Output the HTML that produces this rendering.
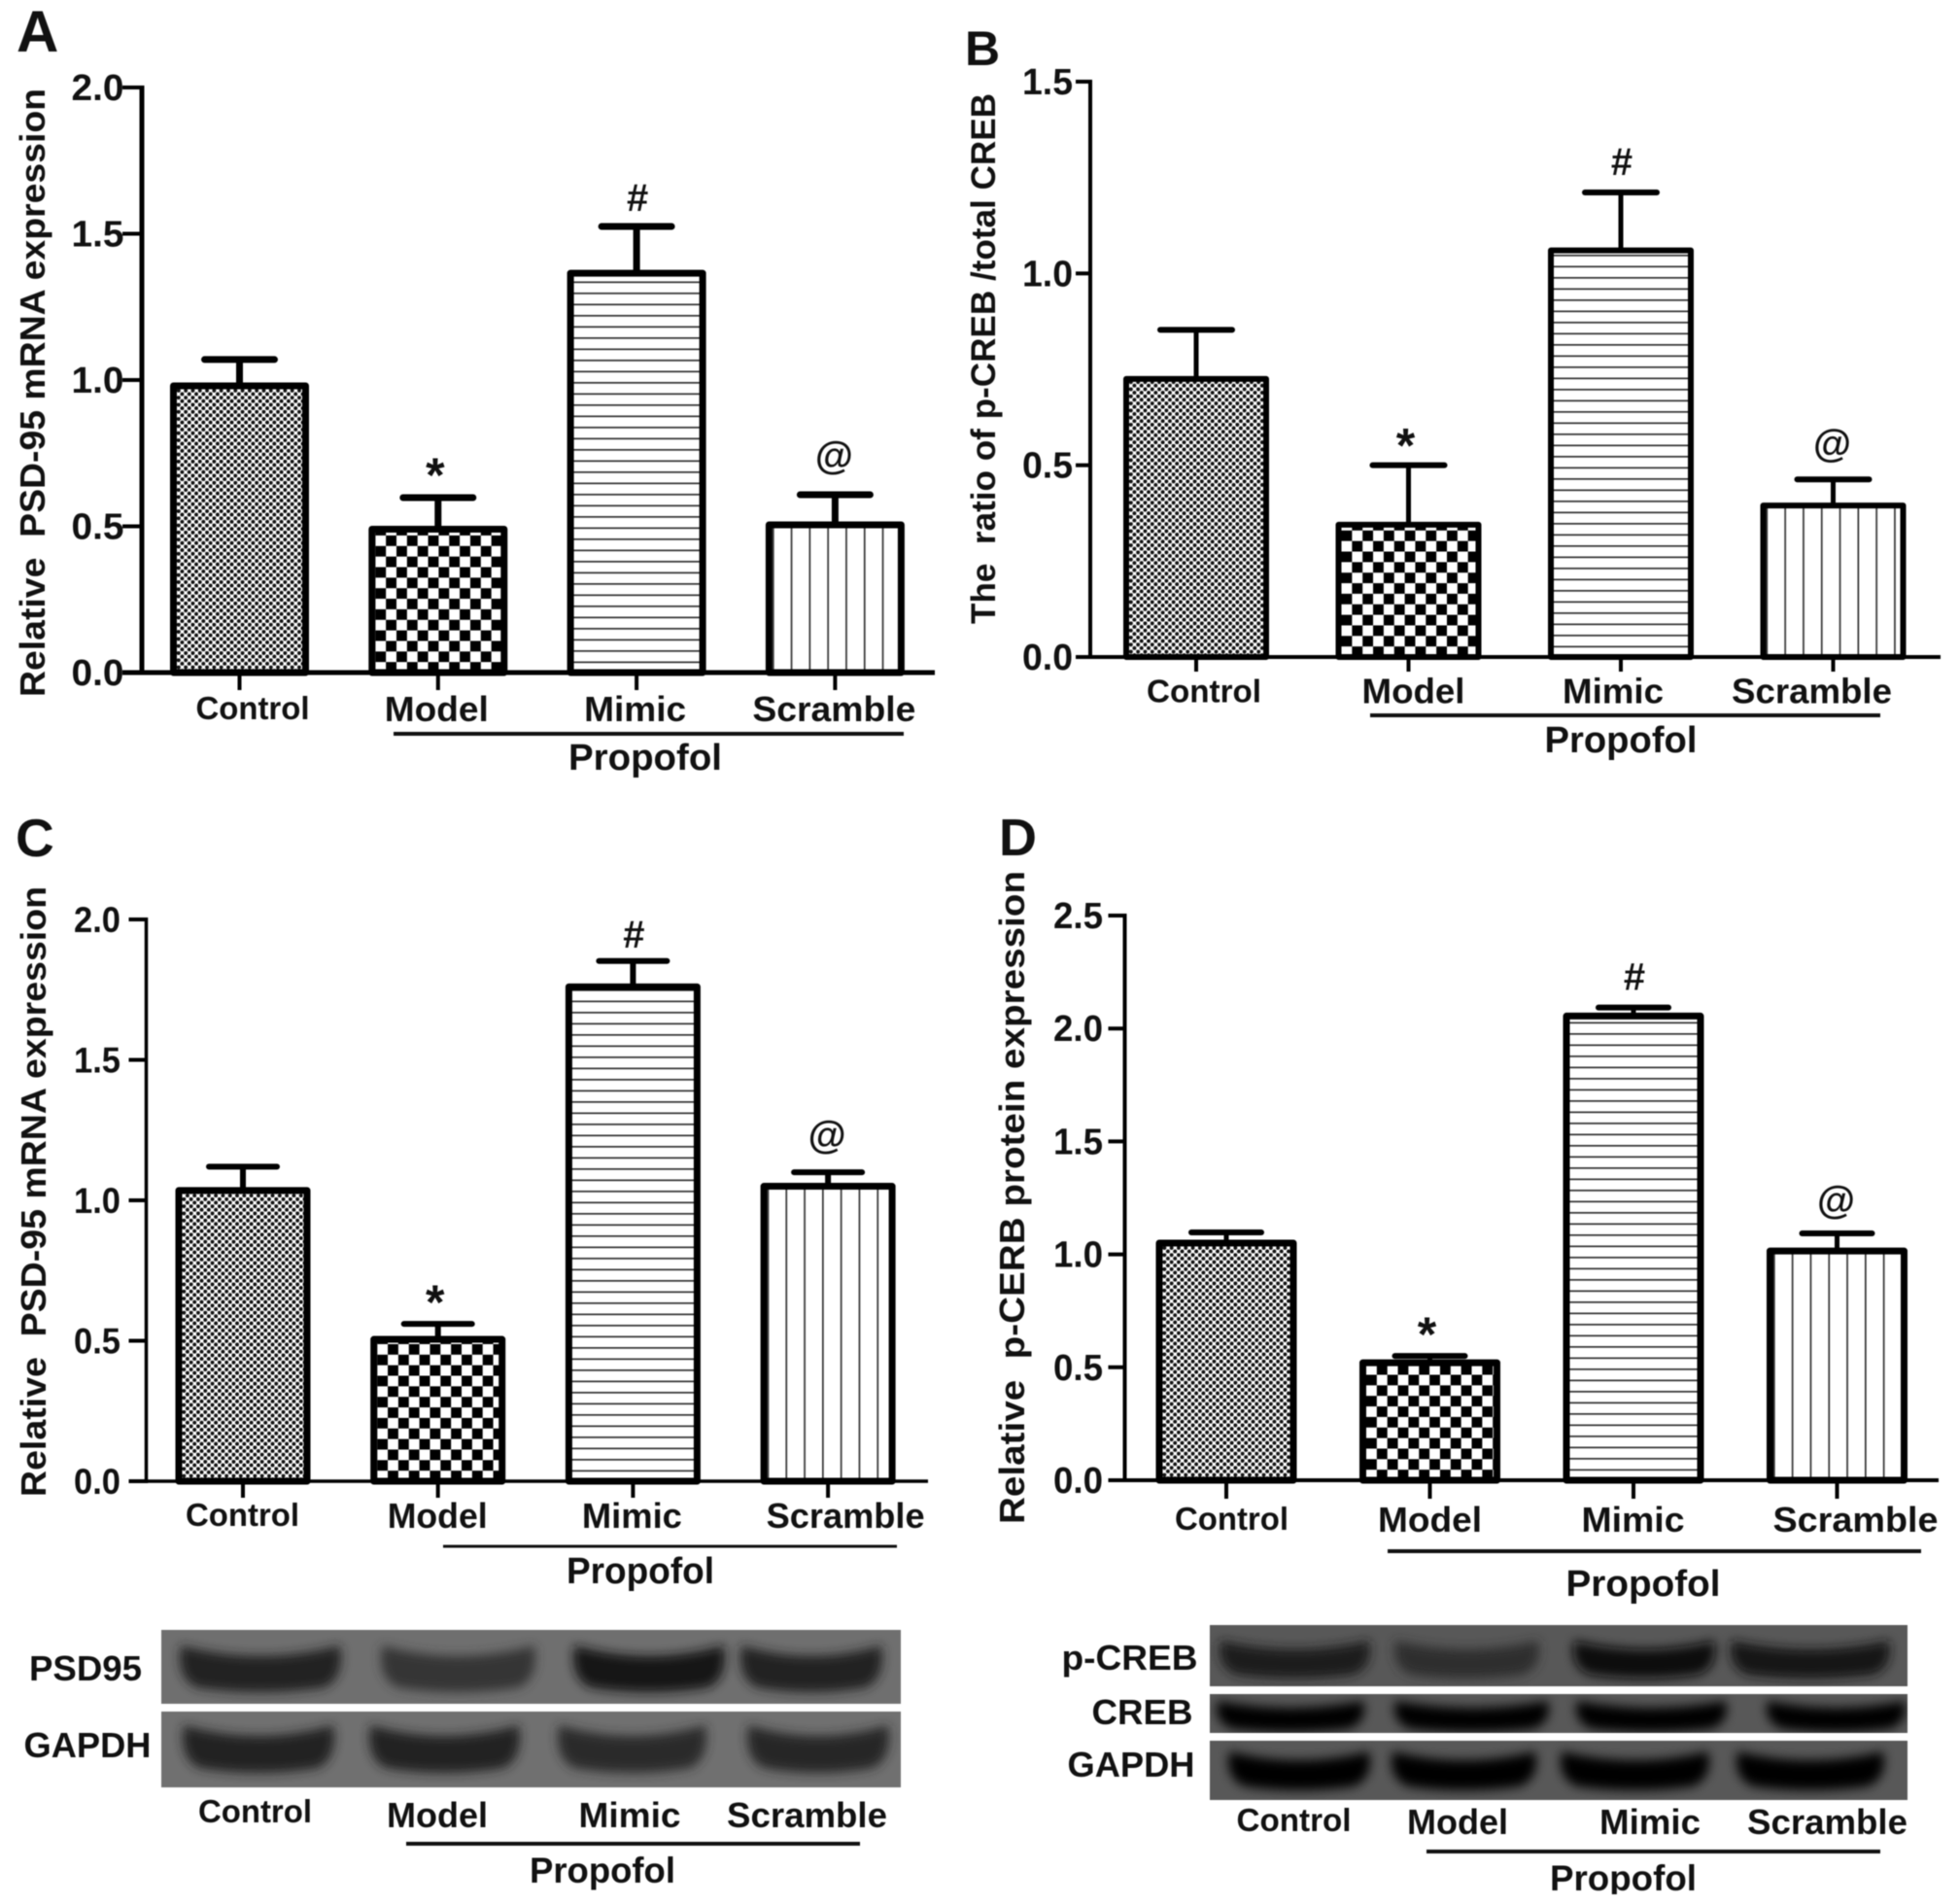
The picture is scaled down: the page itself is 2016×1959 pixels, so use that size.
<!DOCTYPE html>
<html lang="en">
<head>
<meta charset="utf-8">
<title>PSD-95 and CREB expression panels</title>
<style>
html,body{margin:0;padding:0;background:#fff;overflow:hidden;}
svg{display:block;filter:blur(0.6px);}
text{font-family:"Liberation Sans",Arial,sans-serif;font-weight:bold;fill:#111;}
</style>
</head>
<body>
<svg id="fig" xmlns="http://www.w3.org/2000/svg" width="2016" height="1959" viewBox="0 0 2016 1959">
  <defs id="defs">
    <filter id="bandBlur" x="-30%" y="-80%" width="160%" height="260%"><feGaussianBlur stdDeviation="5.5"/></filter>
  </defs>
  <rect x="0" y="0" width="2016" height="1959" fill="#fff"/>
</svg>
<script>
// ---- chart data ----
const categories = ['Control', 'Model', 'Mimic', 'Scramble'];
const annotations = ['', '*', '#', '@'];

const valuesA = [0.98, 0.49, 1.365, 0.505];
const errorsA = [0.09, 0.108, 0.16, 0.103];
const yTicksA = ['0.0', '0.5', '1.0', '1.5', '2.0'];

const valuesB = [0.725, 0.345, 1.06, 0.395];
const errorsB = [0.128, 0.155, 0.151, 0.068];
const yTicksB = ['0.0', '0.5', '1.0', '1.5'];

const valuesC = [1.035, 0.505, 1.76, 1.05];
const errorsC = [0.085, 0.055, 0.092, 0.05];
const yTicksC = ['0.0', '0.5', '1.0', '1.5', '2.0'];

const valuesD = [1.05, 0.52, 2.055, 1.015];
const errorsD = [0.047, 0.03, 0.038, 0.078];
const yTicksD = ['0.0', '0.5', '1.0', '1.5', '2.0', '2.5'];

// ---- layout (one per panel) ----
const layouts = [
  { id:'a', letter:'A', letterX:17, letterY:53, letterSize:60,
    values:valuesA, errors:errorsA, ticks:yTicksA,
    axisX:146, y0:692, yTop:90, yMax:2.0, xEnd:962, tickLeft:126, tickLen:18,
    first:246.5, step:204.3, barW:136, sw:7, stem:7, capW:72, capH:7, axisW:5,
    tickSize:38, tickW:54, tickRight:127.5,
    starOff:-6, hashOff:-16, atOff:-27,
    title:'Relative  PSD-95 mRNA expression', titleX:46, titleBottom:717, titleLen:626, titleSize:36,
    labelDx:[13.5,-1.5,-1.5,-1], labelW:[117,107,105,168], labelY:[740,742,742,742], labelSize:[33,36,36,36],
    lineX1:405, lineX2:930, lineY:755, lineW:4, groupX:664, groupY:792, groupW:158 },
  { id:'b', letter:'B', letterX:993, letterY:67, letterSize:50,
    values:valuesB, errors:errorsB, ticks:yTicksB,
    axisX:1122, y0:676, yTop:84, yMax:1.5, xEnd:1997, tickLeft:1107, tickLen:15,
    first:1231, step:218.5, barW:144, sw:6, stem:5, capW:74, capH:6, axisW:4,
    tickSize:38, tickW:52, tickRight:1104,
    starOff:-3, hashOff:-18, atOff:-24,
    title:'The  ratio of p-CREB /total CREB', titleX:1024, titleBottom:642, titleLen:546, titleSize:35,
    labelDx:[8,5,-8,-22], labelW:[118,106,104,165], labelY:[722.5,723.5,723.5,723.5], labelSize:[33,36,36,36],
    lineX1:1410, lineX2:1935, lineY:736, lineW:4, groupX:1668, groupY:774, groupW:157 },
  { id:'c', letter:'C', letterX:16, letterY:881, letterSize:55,
    values:valuesC, errors:errorsC, ticks:yTicksC,
    axisX:150.5, y0:1524, yTop:946, yMax:2.0, xEnd:955, tickLeft:132.5, tickLen:17,
    first:250, step:200.7, barW:132, sw:7, stem:6, capW:70, capH:6, axisW:3.5,
    tickSize:37, tickW:48, tickRight:124,
    starOff:-5, hashOff:-14, atOff:-25,
    title:'Relative  PSD-95 mRNA expression', titleX:47, titleBottom:1540, titleLen:628, titleSize:36,
    labelDx:[-0.5,-0.5,-1,18], labelW:[117,103,103,163], labelY:[1570,1572,1572,1572], labelSize:[33,36,36,36],
    lineX1:456, lineX2:923, lineY:1591, lineW:3, groupX:659, groupY:1629, groupW:152 },
  { id:'d', letter:'D', letterX:1028, letterY:880, letterSize:54,
    values:valuesD, errors:errorsD, ticks:yTicksD,
    axisX:1157.5, y0:1523, yTop:942, yMax:2.5, xEnd:1995, tickLeft:1140.5, tickLen:19,
    first:1262, step:209.5, barW:138, sw:7, stem:5, capW:72, capH:6, axisW:4,
    tickSize:38, tickW:51, tickRight:1135,
    starOff:-5, hashOff:-18, atOff:-21,
    title:'Relative  p-CERB protein expression', titleX:1054, titleBottom:1568, titleLen:672, titleSize:36,
    labelDx:[5.5,0,-0.5,19], labelW:[117,107,106,170], labelY:[1574,1576,1576,1576], labelSize:[33,36,36,36],
    lineX1:1428, lineX2:1977, lineY:1596, lineW:4, groupX:1691, groupY:1642, groupW:159 }
];

const SVG_NS = 'http://www.w3.org/2000/svg';
const root = document.getElementById('fig');
const defs = document.getElementById('defs');

function shape(parent, tag, attrs) {
  const el = document.createElementNS(SVG_NS, tag);
  for (const k in attrs) el.setAttribute(k, attrs[k]);
  parent.appendChild(el);
  return el;
}

function label(parent, name, str, x, y, size, width, anchor, rotate) {
  const el = document.createElementNS(SVG_NS, 'text');
  
  
  el.setAttribute('x', x);
  el.setAttribute('y', y);
  el.setAttribute('font-size', size);
  el.setAttribute('text-anchor', anchor || 'middle');
  el.setAttribute('xml:space', 'preserve');
  el.style.whiteSpace = 'pre';
  if (width) {
    el.setAttribute('textLength', width);
    el.setAttribute('lengthAdjust', 'spacingAndGlyphs');
  }
  if (rotate) el.setAttribute('transform', 'rotate(-90 ' + x + ' ' + y + ')');
  el.textContent = str;
  parent.appendChild(el);
  return el;
}

function makePattern(id, kind, x, y) {
  const sizes = { dots:[7.3,7.3], checker:[21.7,21.7], hlines:[20,11.5], vlines:[18.8,20] };
  const p = shape(defs, 'pattern', { id:id, patternUnits:'userSpaceOnUse', x:x, y:y, width:sizes[kind][0], height:sizes[kind][1] });
  shape(p, 'rect', { x:0, y:0, width:sizes[kind][0], height:sizes[kind][1], fill:'#fff' });
  if (kind === 'dots') {
    shape(p, 'circle', { cx:1.8, cy:1.8, r:2.05, fill:'#111' });
    shape(p, 'circle', { cx:5.45, cy:5.45, r:2.05, fill:'#111' });
  } else if (kind === 'checker') {
    shape(p, 'rect', { x:0, y:0, width:10.85, height:10.85, fill:'#000' });
    shape(p, 'rect', { x:10.85, y:10.85, width:10.85, height:10.85, fill:'#000' });
  } else if (kind === 'hlines') {
    shape(p, 'rect', { x:0, y:0, width:20, height:1.7, fill:'#333' });
  } else {
    shape(p, 'rect', { x:0, y:0, width:1.7, height:20, fill:'#333' });
  }
}

const patternKinds = ['dots', 'checker', 'hlines', 'vlines'];

layouts.forEach(function (L) {
  const panel = document.createElementNS(SVG_NS, 'g');
  
  
  root.appendChild(panel);

  const yScale = function (v) { return L.y0 - (v / L.yMax) * (L.y0 - L.yTop); };
  const xScale = function (i) { return L.first + i * L.step; };

  label(panel, 'panel-letter-' + L.id, L.letter, L.letterX, L.letterY, L.letterSize, null, 'start');
  label(panel, 'y-axis-title-' + L.id, L.title, L.titleX, L.titleBottom, L.titleSize, L.titleLen, 'start', true);

  categories.forEach(function (cat, i) {
    const cx = xScale(i);
    const top = yScale(L.values[i]);
    const capY = yScale(L.values[i] + L.errors[i]);
    const key = L.id + '-' + cat.toLowerCase();

    const stem = shape(panel, 'line', { x1:cx, x2:cx, y1:capY, y2:top, stroke:'#000', 'stroke-width':L.stem });
    
    

    const cap = shape(panel, 'line', { x1:cx - L.capW / 2, x2:cx + L.capW / 2, y1:capY, y2:capY, stroke:'#000', 'stroke-width':L.capH, 'stroke-linecap':'round' });
    
    

    const left = cx - L.barW / 2;
    const pid = 'pat-' + key;
    makePattern(pid, patternKinds[i], left + L.sw / 2, L.y0);
    const bar = shape(panel, 'rect', { x:left, y:top, width:L.barW, height:L.y0 - top, fill:'url(#' + pid + ')', stroke:'#000', 'stroke-width':L.sw, 'stroke-linejoin':'round' });
    
    

    const tick = shape(panel, 'line', { x1:cx, x2:cx, y1:L.y0, y2:L.y0 + L.tickLen, stroke:'#000', 'stroke-width':4 });
    
    

    label(panel, 'x-label-' + key, cat, cx + L.labelDx[i], L.labelY[i], L.labelSize[i], L.labelW[i]);

    const mark = annotations[i];
    if (mark === '*') label(panel, 'significance-star-' + key, mark, cx - 3, capY + L.starOff, 50, null);
    if (mark === '#') label(panel, 'significance-hash-' + key, mark, cx + 1, capY + L.hashOff, 40, null);
    if (mark === '@') label(panel, 'significance-at-' + key, mark, cx - 1, capY + L.atOff, 40, null);
  });

  const yAxis = shape(panel, 'line', { x1:L.axisX, x2:L.axisX, y1:L.yTop - 2, y2:L.y0 + 2, stroke:'#000', 'stroke-width':L.axisW });
  
  

  const xAxis = shape(panel, 'line', { x1:L.tickLeft, x2:L.xEnd, y1:L.y0, y2:L.y0, stroke:'#000', 'stroke-width':L.axisW });
  
  

  L.ticks.forEach(function (t) {
    const y = yScale(parseFloat(t));
    const tk = shape(panel, 'line', { x1:L.tickLeft, x2:L.axisX, y1:y, y2:y, stroke:'#000', 'stroke-width':4 });
    
    
    label(panel, 'y-tick-label-' + L.id + '-' + t, t, L.tickRight, y + 13, L.tickSize, L.tickW, 'end');
  });

  const gl = shape(panel, 'line', { x1:L.lineX1, x2:L.lineX2, y1:L.lineY, y2:L.lineY, stroke:'#111', 'stroke-width':L.lineW });
  
  
  label(panel, 'propofol-label-' + L.id, 'Propofol', L.groupX, L.groupY, 38, L.groupW);
});

// ---- western blots (image-like, not chart data) ----
const blots = [
  { name:'blot-c-psd95', x:166, y:1677, w:761, h:76, bg:'#6f6f6f', b1:1693, b2:1741, bands:[[186,350,'#232323'],[393,550,'#363636'],[591,745,'#161616'],[763,907,'#242424']] },
  { name:'blot-c-gapdh', x:166, y:1761, w:761, h:78, bg:'#707070', b1:1775, b2:1824, bands:[[189,343,'#242424'],[381,534,'#242424'],[575,726,'#2a2a2a'],[770,914,'#262626']] },
  { name:'blot-d-pcreb', x:1245, y:1672, w:718, h:63, bg:'#585858', b1:1688, b2:1727, bands:[[1256,1409,'#1c1c1c'],[1436,1583,'#2e2e2e'],[1620,1764,'#0c0c0c'],[1782,1944,'#181818']] },
  { name:'blot-d-creb', x:1245, y:1743, w:718, h:40, bg:'#585858', b1:1750, b2:1782, bands:[[1253,1403,'#060606'],[1436,1593,'#040404'],[1623,1776,'#050505'],[1819,1960,'#000000']] },
  { name:'blot-d-gapdh', x:1245, y:1791, w:718, h:61, bg:'#585858', b1:1802, b2:1842, bands:[[1265,1409,'#020202'],[1433,1580,'#040404'],[1607,1758,'#000000'],[1788,1938,'#030303']] }
];

function bandPath(x1, x2, y1, y2) {
  const h = y2 - y1;
  const cx = (x1 + x2) / 2;
  return 'M' + x1 + ' ' + y1 +
    ' Q' + cx + ' ' + (y1 + 0.45 * h) + ' ' + x2 + ' ' + y1 +
    ' Q' + (x2 + 5) + ' ' + (y2 - 0.3 * h) + ' ' + (x2 - 16) + ' ' + (y2 - 0.1 * h) +
    ' Q' + cx + ' ' + (y2 + 0.1 * h) + ' ' + (x1 + 16) + ' ' + (y2 - 0.1 * h) +
    ' Q' + (x1 - 5) + ' ' + (y2 - 0.3 * h) + ' ' + x1 + ' ' + y1 + 'Z';
}

blots.forEach(function (B, n) {
  const clip = shape(defs, 'clipPath', { id:'clip-' + n });
  shape(clip, 'rect', { x:B.x, y:B.y, width:B.w, height:B.h });
  const g = document.createElementNS(SVG_NS, 'g');
  
  
  g.setAttribute('clip-path', 'url(#clip-' + n + ')');
  root.appendChild(g);
  shape(g, 'rect', { x:B.x, y:B.y, width:B.w, height:B.h, fill:B.bg });
  B.bands.forEach(function (b, i) {
    const el = shape(g, 'path', { d:bandPath(b[0], b[1], B.b1, B.b2), fill:b[2], filter:'url(#bandBlur)' });
    
    
  });
});

const blotGroup = document.createElementNS(SVG_NS, 'g');


root.appendChild(blotGroup);

label(blotGroup, 'blot-label-psd95', 'PSD95', 88, 1729, 36, 116);
label(blotGroup, 'blot-label-c-gapdh', 'GAPDH', 90, 1808, 36, 131);
label(blotGroup, 'blot-label-pcreb', 'p-CREB', 1162.5, 1718, 36, 140);
label(blotGroup, 'blot-label-creb', 'CREB', 1175.5, 1774, 36, 104);
label(blotGroup, 'blot-label-d-gapdh', 'GAPDH', 1164, 1828, 36, 131);

const blotCaptionsC = [[262.5,1875,33,117],[450,1880,36,104],[648,1880,36,105],[830.5,1880,36,165]];
const blotCaptionsD = [[1331.5,1884,33,118],[1500,1887,36,104],[1698,1887,36,104],[1880.5,1887,36,165]];
categories.forEach(function (cat, i) {
  const a = blotCaptionsC[i];
  label(blotGroup, 'blot-caption-c-' + cat.toLowerCase(), cat, a[0], a[1], a[2], a[3]);
  const b = blotCaptionsD[i];
  label(blotGroup, 'blot-caption-d-' + cat.toLowerCase(), cat, b[0], b[1], b[2], b[3]);
});

const lineC = shape(blotGroup, 'line', { x1:418, x2:885, y1:1897, y2:1897, stroke:'#111', 'stroke-width':4 });


const lineD = shape(blotGroup, 'line', { x1:1468, x2:1935, y1:1905, y2:1905, stroke:'#111', 'stroke-width':4 });


label(blotGroup, 'blot-propofol-c', 'Propofol', 620, 1937, 37, 150);
label(blotGroup, 'blot-propofol-d', 'Propofol', 1670.5, 1945, 37, 151);

const mask = shape(root, 'rect', { x:1500, y:1949, width:400, height:10, fill:'#fff' });


</script>
</body>
</html>
